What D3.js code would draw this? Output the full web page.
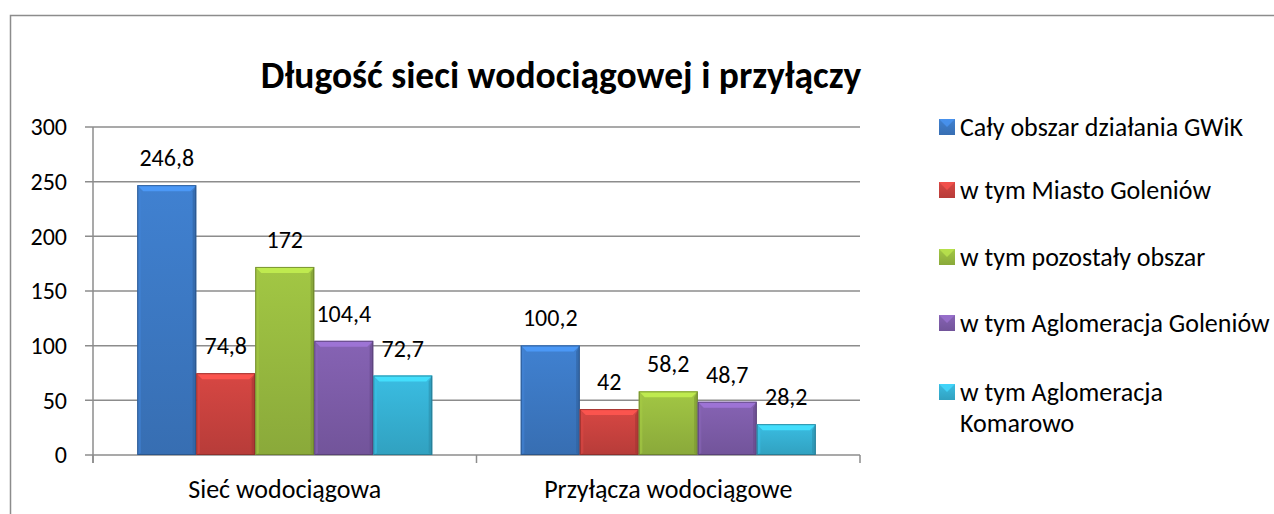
<!DOCTYPE html>
<html><head><meta charset="utf-8">
<script src="https://cdn.jsdelivr.net/npm/d3@7"></script>
<style>body{margin:0;background:#fff;overflow:hidden}svg{display:block}</style>
</head><body>
<script>
const categories = ["Sieć wodociągowa", "Przyłącza wodociągowe"];
const seriesNames = ["Cały obszar działania GWiK", "w tym Miasto Goleniów", "w tym pozostały obszar", "w tym Aglomeracja Goleniów", "w tym Aglomeracja Komarowo"];
const seriesColors = ["#3C78C3", "#C8423E", "#97B93F", "#7D5CA8", "#36B0D2"];
const valuesCaly = [246.8, 100.2];
const valuesMiasto = [74.8, 42];
const valuesPozostaly = [172, 58.2];
const valuesAglGoleniow = [104.4, 48.7];
const valuesAglKomarowo = [72.7, 28.2];
const yTicks = [0, 50, 100, 150, 200, 250, 300];
const valueLabels = [["246,8", "100,2"], ["74,8", "42"], ["172", "58,2"], ["104,4", "48,7"], ["72,7", "28,2"]];
const title = "Długość sieci wodociągowej i przyłączy";

const series = [valuesCaly, valuesMiasto, valuesPozostaly, valuesAglGoleniow, valuesAglKomarowo];
const W = 1274, H = 514;
const FONT = "Carlito, Lato, 'Open Sans', sans-serif";
const TXT = 26, NUM = 24;
const svg = d3.select("body").append("svg").attr("width", W).attr("height", H);
const defs = svg.append("defs");

// chart border
svg.append("rect").attr("x", 10.5).attr("y", 15.5).attr("width", W + 20).attr("height", H + 20)
  .attr("fill", "#fff").attr("stroke", "#8c8c8c").attr("stroke-width", 1.5);

const plot = {left: 93, right: 860, top: 127, bottom: 455};
const y = d3.scaleLinear().domain([0, 300]).range([plot.bottom, plot.top]);
const x0 = d3.scaleBand().domain(categories).range([plot.left, plot.right]).padding(0);
const gapFrac = 1.5 / (5 + 1.5);
const x1 = d3.scaleBand().domain(d3.range(5)).range([x0.bandwidth() * gapFrac / 2, x0.bandwidth() * (1 - gapFrac / 2)]).padding(0);

// gridlines
svg.append("g").selectAll("line").data(yTicks).join("line")
  .attr("x1", plot.left - 8).attr("x2", plot.right)
  .attr("y1", d => y(d)).attr("y2", d => y(d))
  .attr("stroke", "#8c8c8c").attr("stroke-width", 1.5);
// y axis line
svg.append("line").attr("x1", plot.left).attr("x2", plot.left).attr("y1", plot.top).attr("y2", plot.bottom + 8)
  .attr("stroke", "#8c8c8c").attr("stroke-width", 1.5);
// category ticks
const catBounds = [plot.left, plot.left + x0.bandwidth(), plot.right];
svg.append("g").selectAll("line").data(catBounds).join("line")
  .attr("x1", d => d).attr("x2", d => d).attr("y1", plot.bottom).attr("y2", plot.bottom + 8)
  .attr("stroke", "#8c8c8c").attr("stroke-width", 1.5);

// y labels
svg.append("g").selectAll("text").data(yTicks).join("text")
  .attr("x", 67).attr("y", d => y(d)).attr("dy", "0.35em").attr("text-anchor", "end")
  .attr("font-family", FONT).attr("font-size", NUM).attr("fill", "#000").text(d => d);

// category labels
svg.append("g").selectAll("text").data(categories).join("text")
  .attr("x", d => x0(d) + x0.bandwidth() / 2).attr("y", 498).attr("text-anchor", "middle")
  .attr("font-family", FONT).attr("font-size", TXT).attr("fill", "#000").text(d => d);

// gradients
seriesColors.forEach((c, i) => {
  const base = d3.color(c);
  const g = defs.append("linearGradient").attr("id", "g" + i).attr("x1", 0).attr("x2", 0).attr("y1", 0).attr("y2", 1);
  g.append("stop").attr("offset", "0%").attr("stop-color", base.brighter(0.2));
  g.append("stop").attr("offset", "100%").attr("stop-color", base.darker(0.25));
});

// bars
const b = 6;
series.forEach((vals, si) => {
  const base = d3.color(seriesColors[si]);
  const g = svg.append("g");
  categories.forEach((cat, ci) => {
    const v = vals[ci];
    const bx = x0(cat) + x1(si), bw = x1.bandwidth();
    const by = y(v), bh = y(0) - y(v);
    g.append("rect").attr("x", bx).attr("y", by).attr("width", bw).attr("height", bh).attr("fill", `url(#g${si})`);
    g.append("polygon").attr("points", [[bx, by], [bx + bw, by], [bx + bw - b, by + b], [bx + b, by + b]].join(" "))
      .attr("fill", base.brighter(0.7)).attr("opacity", 0.9);
    g.append("polygon").attr("points", [[bx, by], [bx + b * 0.6, by + b], [bx + b * 0.6, by + bh - 2], [bx, by + bh]].join(" "))
      .attr("fill", base.brighter(0.25)).attr("opacity", 0.6);
    g.append("polygon").attr("points", [[bx + bw, by], [bx + bw - b * 0.6, by + b], [bx + bw - b * 0.6, by + bh - 2], [bx + bw, by + bh]].join(" "))
      .attr("fill", base.darker(0.6)).attr("opacity", 0.6);
    g.append("rect").attr("x", bx + 0.5).attr("y", by + 0.5).attr("width", bw - 1).attr("height", bh - 1)
      .attr("fill", "none").attr("stroke", base.darker(1.3)).attr("stroke-width", 1).attr("opacity", 0.7);
    g.append("text").attr("x", bx + bw / 2).attr("y", by - 19).attr("text-anchor", "middle")
      .attr("font-family", FONT).attr("font-size", NUM).attr("fill", "#000").text(valueLabels[si][ci]);
  });
});

// title
svg.append("text").attr("x", 561).attr("y", 88).attr("text-anchor", "middle")
  .attr("font-family", FONT).attr("font-weight", "bold").attr("font-size", 37.5).attr("fill", "#000").text(title);

// legend
const legendY = [127, 190, 257, 323, 392];
const leg = svg.append("g");
seriesNames.forEach((name, i) => {
  const c = d3.color(seriesColors[i]);
  const ly = legendY[i];
  leg.append("rect").attr("x", 939).attr("y", ly - 8).attr("width", 16).attr("height", 16).attr("fill", `url(#g${i})`);
  leg.append("polygon").attr("points", [[939, ly - 8], [955, ly - 8], [947, ly]].join(" ")).attr("fill", c.brighter(0.6)).attr("opacity", 0.8);
  let lines = [name];
  if (i === 4) lines = ["w tym Aglomeracja", "Komarowo"];
  lines.forEach((t, k) => {
    leg.append("text").attr("x", 960).attr("y", ly + k * 31).attr("dy", "0.35em")
      .attr("font-family", FONT).attr("font-size", TXT).attr("fill", "#000").text(t);
  });
});
</script>
</body></html>
